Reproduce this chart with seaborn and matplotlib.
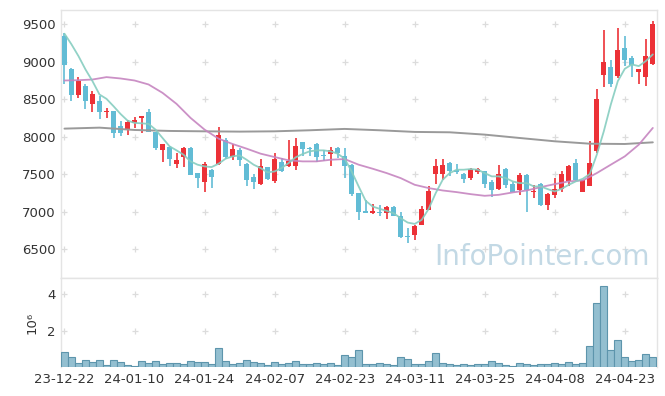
import numpy as np
import pandas as pd
import matplotlib
matplotlib.use("Agg")
import matplotlib.pyplot as plt
import seaborn as sns

sns.set_style("white")
plt.rcParams['font.family'] = ['DejaVu Sans']

# daily candles (KRW), 85 trading days from 23-12-22
opens = [9350, 8910, 8560, 8680, 8440, 8480, 8330, 8340, 8150, 8090,
         8190, 8250, 8330, 8060, 7830, 7870, 7640, 7730, 7850, 7520,
         7400, 7560, 7640, 7960, 7730, 7820, 7640, 7470, 7370, 7600,
         7410, 7660, 7610, 7610, 7930, 7850, 7900, 7750, 7770, 7850,
         7750, 7630, 7250, 7010, 6990, 7000, 6990, 7060, 6940, 6680,
         6690, 6830, 7030, 7500, 7500, 7650, 7560, 7510, 7450, 7530,
         7540, 7400, 7310, 7570, 7370, 7290, 7490, 7260, 7370, 7090,
         7230, 7300, 7410, 7650, 7270, 7350, 7810, 8830, 8930, 8810,
         9190, 9050, 8870, 8800, 8970]
highs = [9380, 8920, 8800, 8710, 8610, 8550, 8380, 8350, 8210, 8220,
         8260, 8280, 8370, 8070, 7900, 7880, 7790, 7860, 7860, 7520,
         7670, 7570, 8130, 7990, 7900, 7850, 7650, 7500, 7710, 7600,
         7780, 7720, 7960, 7980, 7930, 7870, 7920, 7830, 7860, 7860,
         7850, 7640, 7250, 7160, 7100, 7090, 7080, 7080, 7000, 6790,
         6820, 7080, 7340, 7710, 7700, 7660, 7640, 7520, 7580, 7590,
         7550, 7420, 7630, 7580, 7400, 7520, 7500, 7360, 7380, 7250,
         7450, 7550, 7620, 7700, 7430, 7940, 8640, 9420, 9030, 9450,
         9340, 9080, 8900, 9310, 9550]
lows = [8700, 8480, 8520, 8370, 8330, 8240, 8250, 7980, 8010, 8020,
        8120, 8050, 8060, 7830, 7660, 7610, 7580, 7600, 7490, 7320,
        7270, 7320, 7620, 7710, 7690, 7610, 7350, 7310, 7360, 7420,
        7390, 7530, 7600, 7560, 7750, 7750, 7660, 7680, 7610, 7720,
        7450, 7210, 6890, 6980, 6970, 6950, 6910, 6940, 6650, 6580,
        6620, 6820, 7020, 7370, 7430, 7480, 7510, 7380, 7430, 7500,
        7320, 7200, 7290, 7320, 7260, 7230, 7000, 7180, 7080, 7030,
        7180, 7270, 7340, 7410, 7260, 7340, 7790, 8660, 8660, 8790,
        8950, 8800, 8710, 8680, 8960]
closes = [8960, 8560, 8750, 8480, 8570, 8330, 8350, 8050, 8050, 8200,
          8220, 8280, 8070, 7850, 7900, 7710, 7690, 7850, 7490, 7450,
          7640, 7470, 8020, 7730, 7840, 7690, 7420, 7400, 7610, 7440,
          7710, 7540, 7680, 7880, 7840, 7840, 7730, 7740, 7820, 7790,
          7610, 7240, 7000, 6990, 7010, 6990, 7070, 6950, 6670, 6660,
          6810, 7040, 7280, 7610, 7630, 7550, 7530, 7440, 7570, 7570,
          7370, 7290, 7510, 7360, 7270, 7490, 7290, 7280, 7090, 7240,
          7310, 7510, 7610, 7420, 7430, 7650, 8510, 9000, 8710, 9160,
          9030, 8960, 8900, 9080, 9500]

# volume, millions of shares
volume = [0.82, 0.55, 0.22, 0.38, 0.27, 0.38, 0.11, 0.38, 0.27, 0.11,
          0.05, 0.33, 0.22, 0.33, 0.16, 0.22, 0.22, 0.16, 0.33, 0.27,
          0.27, 0.16, 1.04, 0.33, 0.16, 0.22, 0.38, 0.27, 0.22, 0.11,
          0.27, 0.16, 0.22, 0.33, 0.16, 0.16, 0.22, 0.16, 0.22, 0.11,
          0.65, 0.55, 0.93, 0.16, 0.16, 0.22, 0.16, 0.11, 0.55, 0.44,
          0.16, 0.16, 0.33, 0.76, 0.22, 0.16, 0.11, 0.16, 0.11, 0.16,
          0.16, 0.33, 0.22, 0.11, 0.05, 0.22, 0.16, 0.11, 0.16, 0.16,
          0.22, 0.16, 0.27, 0.16, 0.22, 1.15, 3.49, 4.42, 0.93, 1.47,
          0.55, 0.33, 0.38, 0.71, 0.55]

# moving averages
ma5 = [9375, 9233, 9076, 8898, 8742, 8564, 8506, 8408, 8305, 8216,
       8185, 8180, 8172, 8096, 7984, 7873, 7819, 7761, 7672, 7628,
       7605, 7596, 7641, 7708, 7739, 7752, 7694, 7628, 7583, 7525,
       7538, 7583, 7650, 7726, 7770, 7806, 7819, 7819, 7806, 7775,
       7708, 7538, 7338, 7146, 7070, 7039, 7012, 6981, 6914, 6856,
       6838, 6892, 7039, 7249, 7427, 7516, 7561, 7561, 7570, 7561,
       7516, 7472, 7472, 7449, 7405, 7382, 7382, 7338, 7338, 7302,
       7271, 7307, 7360, 7405, 7440, 7503, 7761, 8073, 8430, 8742,
       8907, 8965, 8943, 9010, 9099]
ma20_x = list(range(0, 85, 2))
ma20 = [8751, 8755, 8764, 8796, 8778, 8751, 8698, 8586, 8439, 8252,
        8096, 7975, 7904, 7842, 7775, 7730, 7686, 7672, 7672, 7694,
        7703, 7628, 7574, 7516, 7449, 7360, 7316, 7284, 7262, 7235,
        7213, 7226, 7258, 7284, 7329, 7369, 7405, 7418, 7516, 7628,
        7739, 7895, 8118]
ma60_x = [0, 5, 10, 15, 20, 25, 30, 35, 40, 45, 50, 55, 60, 65, 70, 75, 80, 84]
ma60 = [8109, 8122, 8091, 8078, 8073, 8069, 8073, 8087, 8105, 8087,
        8065, 8060, 8029, 7984, 7940, 7908, 7904, 7926]

tick_labels = ['23-12-22', '24-01-10', '24-01-24', '24-02-07', '24-02-23',
               '24-03-11', '24-03-25', '24-04-08', '24-04-23']

idx = np.arange(len(closes))
df = pd.DataFrame({'i': idx, 'open': opens, 'high': highs, 'low': lows,
                   'close': closes, 'volume': volume})
up = df['close'] >= df['open']

red = '#ec3137'
blue = '#62bcd5'
grid_c = '#dcdcdc'
spine_c = '#e4e4e4'
txt_c = '#333333'

fig = plt.figure(figsize=(6.65, 3.96), dpi=100)
ax = fig.add_axes([0.0917, 0.2992, 0.8963, 0.6755])
ax2 = fig.add_axes([0.0917, 0.0725, 0.8963, 0.2255], sharex=ax)

# candles
colors = np.where(up, red, blue)
ax.vlines(df['i'], df['low'], df['high'], colors=colors, lw=1.2, zorder=2)
body_lo = df[['open', 'close']].min(axis=1)
body_h = (df['close'] - df['open']).abs().clip(lower=12)
ax.bar(df['i'], body_h, bottom=body_lo, width=0.72, color=colors,
       linewidth=0, zorder=3)

# moving averages
sns.lineplot(x=ma60_x, y=ma60, ax=ax, color='#9a9a9a', lw=1.4, zorder=4)
sns.lineplot(x=ma20_x, y=ma20, ax=ax, color='#c685c0', lw=1.3, alpha=0.9, zorder=4)
sns.lineplot(x=idx, y=ma5, ax=ax, color='#86cdc0', lw=1.3, alpha=0.9, zorder=4)

# volume
ax2.bar(df['i'], df['volume'], width=1.0, color='#93bfd0',
        edgecolor='#5d95ac', linewidth=0.8, zorder=3)

xticks = np.arange(0, 81, 10)
ax.set_xlim(-0.5, 84.6)
ax.set_ylim(6123, 9691)
ax2.set_ylim(0, 4.87)

yt = np.arange(6500, 9501, 500)
ax.set_yticks(yt)
ax2.set_yticks([2, 4])
ax2.set_xticks(xticks)
ax2.set_xticklabels(tick_labels)
plt.setp(ax.get_xticklabels(), visible=False)

# "+" grid marks
gx, gy = np.meshgrid(xticks, yt)
ax.plot(gx.ravel(), gy.ravel(), '+', color=grid_c, ms=5, mew=0.9, zorder=0)
gx2, gy2 = np.meshgrid(xticks, [2, 4])
ax2.plot(gx2.ravel(), gy2.ravel(), '+', color=grid_c, ms=5, mew=0.9, zorder=0)

for a in (ax, ax2):
    a.tick_params(length=0, labelsize=9.5, colors=txt_c, pad=4)
    for s in a.spines.values():
        s.set_color(spine_c)
        s.set_linewidth(1)
ax2.spines['bottom'].set_visible(False)
ax2.set_ylabel('10⁶', fontsize=9.5, color=txt_c, labelpad=6)
ax.set_xlabel('')
ax2.set_xlabel('')

fig.text(0.977, 0.352, 'InfoPointer.com', ha='right', va='center',
         fontsize=20, color='#c3d9e5', zorder=1)

fig.savefig('out.png', dpi=100)
